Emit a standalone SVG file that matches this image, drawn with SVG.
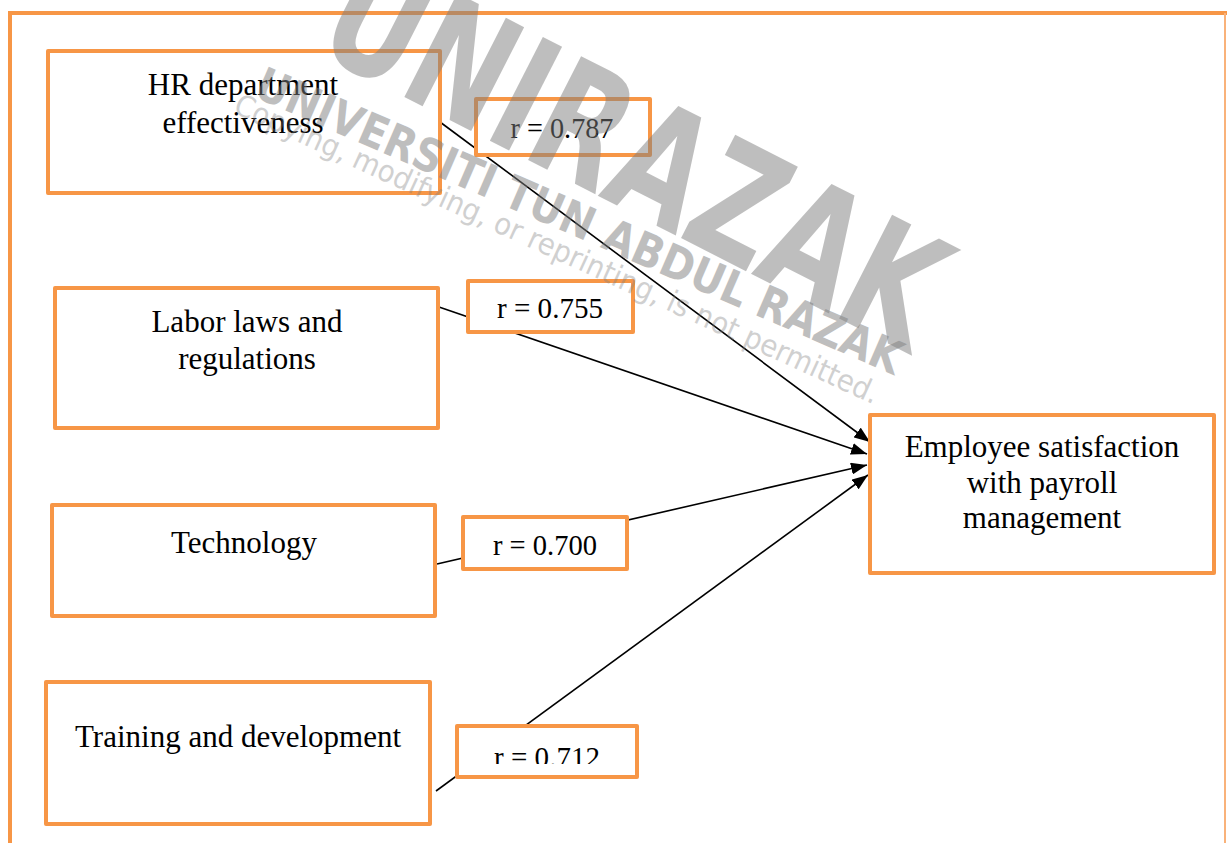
<svg xmlns="http://www.w3.org/2000/svg" width="1227" height="843" viewBox="0 0 1227 843">
  <style>
    .frame { fill: none; stroke: #F79646; stroke-width: 4; }
    .box { fill: #ffffff; stroke: #F79646; stroke-width: 4; stroke-linejoin: round; }
    .node-text { font-family: "Liberation Serif", "Times New Roman", serif; font-size: 31px; fill: #000; text-anchor: middle; }
    .r-text { font-family: "Liberation Serif", "Times New Roman", serif; font-size: 30px; fill: #000; text-anchor: middle; }
    .link { fill: none; stroke: #000; stroke-width: 1.6; marker-end: url(#arrow); }
    .wm { font-family: "DejaVu Sans", "Liberation Sans", sans-serif; fill: #7f7f7f; }
  </style>
  <defs>
    <marker id="arrow" viewBox="0 0 16 12" refX="16" refY="6" markerWidth="16" markerHeight="12" markerUnits="userSpaceOnUse" orient="auto">
      <path d="M0,0 L16,6 L0,12 z" fill="#000"/>
    </marker>
    <clipPath id="clip-r4">
      <rect x="455" y="724" width="185" height="40"/>
    </clipPath>
  </defs>

  <rect width="1227" height="843" fill="#ffffff"/>

  <!-- outer frame -->
  <g id="frame">
    <line class="frame" x1="8" y1="13" x2="1227" y2="13"/>
    <line class="frame" x1="10" y1="11" x2="10" y2="843"/>
    <line x1="1225" y1="13" x2="1225" y2="843" stroke="#F9B27A" stroke-width="2"/>
  </g>

  <!-- connectors -->
  <g id="connectors">
    <line class="link" x1="440" y1="122" x2="870" y2="442"/>
    <line class="link" x1="439" y1="307" x2="867" y2="454"/>
    <line class="link" x1="437" y1="564" x2="867" y2="465"/>
    <line class="link" x1="436" y1="791" x2="868" y2="475"/>
  </g>

  <!-- source nodes -->
  <g id="node-hr">
    <rect class="box" x="48" y="51" width="392" height="142"/>
    <text class="node-text" x="243" y="95">HR department</text>
    <text class="node-text" x="243" y="133">effectiveness</text>
  </g>
  <g id="node-labor">
    <rect class="box" x="55" y="288" width="383" height="140"/>
    <text class="node-text" x="247" y="332">Labor laws and</text>
    <text class="node-text" x="247" y="369">regulations</text>
  </g>
  <g id="node-technology">
    <rect class="box" x="52" y="505" width="383" height="111"/>
    <text class="node-text" x="244" y="553">Technology</text>
  </g>
  <g id="node-training">
    <rect class="box" x="46" y="682" width="384" height="142"/>
    <text class="node-text" x="238" y="747">Training and development</text>
  </g>

  <!-- target node -->
  <g id="node-satisfaction">
    <rect class="box" x="870" y="415" width="344" height="158"/>
    <text class="node-text" x="1042" y="457">Employee satisfaction</text>
    <text class="node-text" x="1042" y="493">with payroll</text>
    <text class="node-text" x="1042" y="528">management</text>
  </g>

  <!-- correlation labels -->
  <g id="label-r1">
    <rect class="box" x="476" y="99" width="174" height="56"/>
    <text class="r-text" x="562" y="138" textLength="103" lengthAdjust="spacingAndGlyphs">r = 0.787</text>
  </g>
  <g id="label-r2">
    <rect class="box" x="468" y="281" width="165" height="51"/>
    <text class="r-text" x="550" y="318" textLength="106" lengthAdjust="spacingAndGlyphs">r = 0.755</text>
  </g>
  <g id="label-r3">
    <rect class="box" x="463" y="517" width="164" height="52"/>
    <text class="r-text" x="545" y="555" textLength="104" lengthAdjust="spacingAndGlyphs">r = 0.700</text>
  </g>
  <g id="label-r4">
    <rect class="box" x="457" y="726" width="180" height="51"/>
    <text class="r-text" x="547" y="767" textLength="106" lengthAdjust="spacingAndGlyphs" clip-path="url(#clip-r4)">r = 0.712</text>
  </g>

  <!-- watermark -->
  <g id="watermark">
    <text class="wm" opacity="0.5" font-size="160" font-weight="bold" transform="translate(312,50) rotate(27)" textLength="670" lengthAdjust="spacingAndGlyphs">UNIRAZAK</text>
    <text class="wm" opacity="0.5" font-size="46" font-weight="bold" transform="translate(252,96) rotate(23.5)" textLength="700" lengthAdjust="spacingAndGlyphs">UNIVERSITI TUN ABDUL RAZAK</text>
    <text class="wm" opacity="0.36" font-size="30" transform="translate(232,112) rotate(24.5)" textLength="705" lengthAdjust="spacingAndGlyphs">Copying, modifying, or reprinting, is not permitted.</text>
  </g>
</svg>
